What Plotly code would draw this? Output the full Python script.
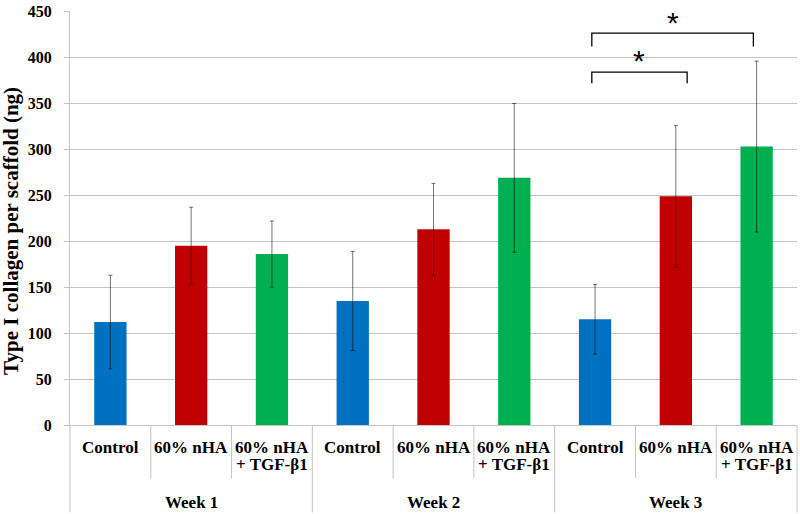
import plotly.graph_objects as go

weeks = ["Week 1", "Week 2", "Week 3"]
groups = ["Control", "60% nHA", "60% nHA + TGF-β1"]
group_lines = [["Control"], ["60% nHA"], ["60% nHA", "+ TGF-β1"]]
colors = ["#0070C0", "#C00000", "#00B050"]
values = [
    [112, 195, 186],
    [135, 213, 269],
    [115, 249, 303],
]
errors = [
    [51, 42, 36],
    [54, 50, 81],
    [38, 77, 93],
]
yticks = [0, 50, 100, 150, 200, 250, 300, 350, 400, 450]

GRID = "#c4c4c4"
SERIF = "Liberation Serif"

fig = go.Figure()
xs, ys, es, cs = [], [], [], []
for w in range(len(weeks)):
    for g in range(len(groups)):
        xs.append(w * len(groups) + g)
        ys.append(values[w][g])
        es.append(errors[w][g])
        cs.append(colors[g])

fig.add_trace(go.Bar(
    x=xs, y=ys, width=0.4, marker=dict(color=cs, line=dict(width=0)),
    error_y=dict(type="data", array=es, visible=True, color="rgba(0,0,0,0.55)",
                 thickness=1, width=2),
    showlegend=False,
))

n = len(weeks) * len(groups)
annotations = []
shapes = []
lab_font = dict(family=SERIF, size=17, color="black", weight="bold")
# category labels
for w in range(len(weeks)):
    for g in range(len(groups)):
        for li, line in enumerate(group_lines[g]):
            annotations.append(dict(x=w * len(groups) + g, y=0, xref="x", yref="y",
                                    text=line, showarrow=False, yanchor="middle",
                                    yshift=-22 - 17.5 * li, align="center", font=lab_font))
    annotations.append(dict(x=w * len(groups) + 1, y=0, xref="x", yref="y",
                            text=weeks[w], showarrow=False, yanchor="middle",
                            yshift=-77, font=lab_font))
# separators
for i in range(n + 1):
    xpos = i - 0.5
    long = (i % len(groups) == 0)
    annotations.append(dict(x=xpos, y=0, xref="x", yref="y", text="", showarrow=True,
                            ax=0, ay=(89 if long else 55), axref="pixel", ayref="pixel",
                            arrowhead=0, arrowwidth=1, arrowcolor=GRID, standoff=0,
                            startstandoff=0))

# significance brackets
br_left = 6 - 0.04
brackets = [(br_left, 7.14, 372, 384, 396.5), (br_left, 7.96, 412, 426.5, 438)]
for x0, x1, yb, yt, ya in brackets:
    shapes.append(dict(type="path", xref="x", yref="y",
                       path=f"M {x0},{yb} L {x0},{yt} L {x1},{yt} L {x1},{yb}",
                       line=dict(color="black", width=1.3)))
    annotations.append(dict(x=(x0 + x1) / 2, y=ya, xref="x", yref="y", text="*",
                            showarrow=False, yanchor="middle", xanchor="center",
                            font=dict(family="Liberation Sans", size=30, color="black")))

annotations.append(dict(x=-0.0805, y=0.47, xref="paper", yref="paper",
                        xanchor="center", yanchor="middle",
                        text="Type I collagen per scaffold (ng)", textangle=-90,
                        showarrow=False,
                        font=dict(family=SERIF, size=21, color="black", weight="bold")))

fig.update_layout(
    width=800, height=514,
    margin=dict(l=70, r=3, t=8, b=89),
    plot_bgcolor="white", paper_bgcolor="white",
    annotations=annotations, shapes=shapes,
)
fig.update_xaxes(range=[-0.5, n - 0.5], showticklabels=False, showgrid=False,
                 zeroline=False, showline=True, linecolor=GRID, linewidth=1, ticks="")
fig.update_yaxes(range=[0, 450.6], tickvals=yticks, showgrid=True, gridcolor=GRID, gridwidth=1,
                 zeroline=False, showline=True, linecolor=GRID, linewidth=1,
                 ticks="outside", ticklen=5, tickcolor=GRID, ticklabelstandoff=9,
                 tickfont=dict(family=SERIF, size=16, color="black", weight="bold"))

fig.write_html("out.html", config={"displayModeBar": False},
               post_script="document.body.style.margin='0';")
